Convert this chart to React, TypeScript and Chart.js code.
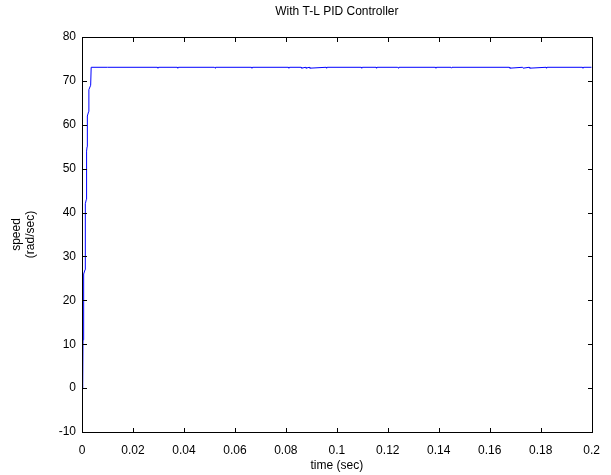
import React, { useEffect, useRef } from "react";
import { Chart, registerables } from "chart.js";

Chart.register(...registerables);

const chartTitle = "With T-L PID Controller";
const xAxisTitle = "time (sec)";
const yAxisTitle = ["speed", "(rad/sec)"];

// time (sec)
const timeValues = [
  0, 0.0003, 0.0004, 0.0006, 0.0007, 0.0012, 0.0013, 0.0017, 0.0018, 0.002,
  0.0021, 0.0026, 0.0027, 0.0034, 0.0036,
  0.01, 0.0296, 0.0298, 0.03, 0.0374, 0.0376, 0.0378, 0.052, 0.0522, 0.0524,
  0.0665, 0.0667, 0.0669, 0.081, 0.0812, 0.0814, 0.086, 0.0862, 0.0877, 0.0879,
  0.0892, 0.0894, 0.0958, 0.096, 0.0962, 0.1096, 0.1098, 0.11, 0.1154, 0.1156,
  0.1158, 0.1239, 0.1241, 0.1243, 0.1387, 0.1389, 0.1391, 0.1448, 0.145, 0.1452,
  0.1677, 0.1679, 0.1729, 0.1731, 0.1755, 0.1757, 0.1821, 0.1823, 0.1825,
  0.1964, 0.1966, 0.1968, 0.2,
];

// speed (rad/sec)
const speedValues = [
  0, 1, 11, 12, 26, 27, 42, 43, 54, 55,
  62, 63, 68, 69, 73.1,
  73.1, 73.1, 72.9, 73.1, 73.1, 72.9, 73.1, 73.1, 72.9, 73.1,
  73.1, 72.9, 73.1, 73.1, 72.9, 73.1, 73.1, 72.9, 73.1, 72.9,
  73.1, 72.9, 73.1, 72.9, 73.1, 73.1, 72.9, 73.1, 73.1, 72.9,
  73.1, 73.1, 72.9, 73.1, 73.1, 72.9, 73.1, 73.1, 72.9, 73.1,
  73.1, 72.9, 73.1, 72.9, 73.1, 72.9, 73.1, 72.9, 73.1,
  73.1, 72.9, 73.1, 73.1,
];

const xTickLabels = ["0", "0.02", "0.04", "0.06", "0.08", "0.1", "0.12", "0.14", "0.16", "0.18", "0.2"];

const xMin = 0;
const xMax = 0.2;
const xStep = 0.02;
const yMin = -10;
const yMax = 80;
const yStep = 10;

const FONT = "'Liberation Sans', Arial, Helvetica, sans-serif";

function drawFrame(chart: any, canvas: HTMLCanvasElement) {
  const ctx = canvas.getContext("2d");
  if (!ctx) return;
  ctx.clearRect(0, 0, canvas.width, canvas.height);
  const area = chart.chartArea;
  const xs = chart.scales["x"];
  const ys = chart.scales["y"];
  const l = Math.round(area.left);
  const t = Math.round(area.top);
  const r = Math.round(area.right);
  const b = Math.round(area.bottom);
  const len = 5;
  ctx.fillStyle = "#000000";
  // box
  ctx.fillRect(l, t, r - l + 1, 1);
  ctx.fillRect(l, b, r - l + 1, 1);
  ctx.fillRect(l, t, 1, b - t + 1);
  ctx.fillRect(r, t, 1, b - t + 1);
  // inward ticks
  const xt = xs.getTicks();
  for (let i = 0; i < xt.length; i++) {
    const px = Math.round(xs.getPixelForValue(xt[i].value));
    ctx.fillRect(px, b - len + 1, 1, len);
    ctx.fillRect(px, t, 1, len);
  }
  const yt = ys.getTicks();
  for (let i = 0; i < yt.length; i++) {
    const py = Math.round(ys.getPixelForValue(yt[i].value));
    ctx.fillRect(l, py, len, 1);
    ctx.fillRect(r - len + 1, py, len, 1);
  }
}

export default function App() {
  const canvasRef = useRef<HTMLCanvasElement | null>(null);
  const overlayRef = useRef<HTMLCanvasElement | null>(null);

  useEffect(() => {
    if (!canvasRef.current) return;
    const points = timeValues.map((t, i) => ({ x: t, y: speedValues[i] }));
    let chart: any = null;
    try {
      chart = new Chart(canvasRef.current, {
        type: "line",
        data: {
          datasets: [
            {
              data: points,
              borderColor: "rgb(0,0,255)",
              borderWidth: 1,
              pointRadius: 0,
              fill: false,
              tension: 0,
            },
          ],
        },
        options: {
          responsive: false,
          animation: false,
          layout: { padding: { left: 0, right: 19, top: 0, bottom: 0 } },
          plugins: {
            legend: { display: false },
            tooltip: { enabled: false },
            title: {
              display: true,
              text: chartTitle,
              color: "#000",
              fullSize: false,
              font: { family: FONT, size: 12, weight: "normal" },
              padding: { top: 4, bottom: 18.6 },
            },
          },
          scales: {
            x: {
              type: "linear",
              min: xMin,
              max: xMax,
              grid: { display: false, drawTicks: false },
              border: { display: false },
              ticks: {
                stepSize: xStep,
                color: "#000",
                padding: 11,
                maxRotation: 0,
                font: { family: FONT, size: 12 },
                callback: (_v: any, i: number) => xTickLabels[i],
              },
              title: {
                display: true,
                text: xAxisTitle,
                color: "#000",
                font: { family: FONT, size: 12 },
                padding: { top: 0, bottom: 2 },
              },
              afterFit: (s: any) => {
                s.height = 43;
              },
            },
            y: {
              type: "linear",
              min: yMin,
              max: yMax,
              grid: { display: false, drawTicks: false },
              border: { display: false },
              ticks: {
                stepSize: yStep,
                color: "#000",
                padding: 6,
                font: { family: FONT, size: 12 },
              },
              title: {
                display: true,
                text: yAxisTitle,
                color: "#000",
                font: { family: FONT, size: 12, lineHeight: 1.1 },
                padding: { top: 10.4, bottom: 0 },
              },
              afterFit: (s: any) => {
                s.width = 82;
              },
            },
          },
        },
      });
      if (overlayRef.current) drawFrame(chart, overlayRef.current);
    } catch (e) {
      // ignore
    }
    return () => {
      if (chart) chart.destroy();
    };
  }, []);

  return (
    <div style={{ position: "absolute", left: 0, top: 0, width: 611, height: 475, background: "#fff" }}>
      <canvas ref={canvasRef} width={611} height={475} style={{ position: "absolute", left: 0, top: 0 }} />
      <canvas
        ref={overlayRef}
        width={611}
        height={475}
        style={{ position: "absolute", left: 0, top: 0, pointerEvents: "none" }}
      />
    </div>
  );
}
